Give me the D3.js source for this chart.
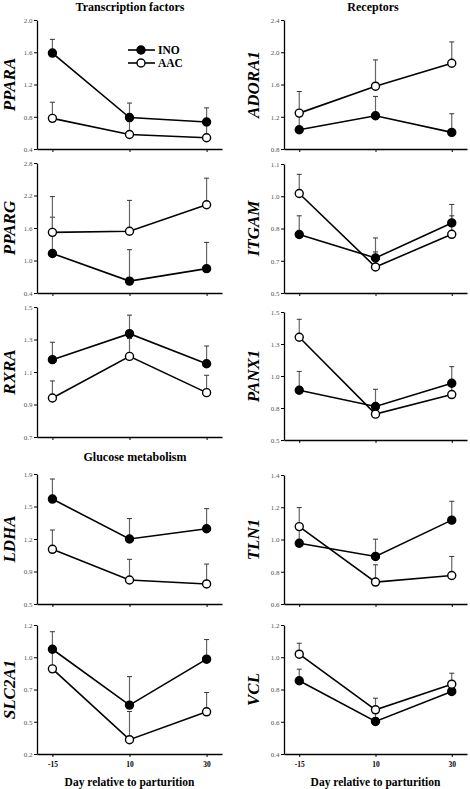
<!DOCTYPE html>
<html><head><meta charset="utf-8">
<script src="https://cdn.jsdelivr.net/npm/d3@7"></script>
<style>
body{margin:0;background:#fff;}
svg{display:block;}
.tick text{font-family:"Liberation Serif","DejaVu Serif",serif;}
</style></head>
<body><svg id="c" width="470" height="789"></svg>
<script>
// ---- data ----
const days = ["-15","10","30"];
const genes = ["PPARA","PPARG","RXRA","LDHA","SLC2A1","ADORA1","ITGAM","PANX1","TLN1","VCL"];
const yDomains = [[0.4,2.0],[0.4,2.8],[0.7,1.5],[0.5,1.9],[0.2,1.2],[0.8,2.4],[0.5,1.1],[0.5,1.5],[0.6,1.4],[0.4,1.2]];
const yTickLabels = [
  ["0.4","0.8","1.2","1.6","2.0"],
  ["0.4","1.0","1.6","2.2","2.8"],
  ["0.7","0.9","1.1","1.3","1.5"],
  ["0.5","0.9","1.2","1.5","1.9"],
  ["0.2","0.5","0.7","1.0","1.2"],
  ["0.8","1.2","1.6","2.0","2.4"],
  ["0.5","0.7","0.8","1.0","1.1"],
  ["0.5","0.8","1.0","1.3","1.5"],
  ["0.6","0.8","1.0","1.2","1.4"],
  ["0.4","0.6","0.8","1.0","1.2"]
];
const inoMean = [
  [1.59,0.79,0.735],[1.13,0.62,0.85],[1.176,1.336,1.151],[1.63,1.20,1.31],[1.012,0.579,0.935],
  [1.039,1.212,1.006],[0.772,0.663,0.826],[0.889,0.762,0.943],[0.977,0.895,1.12],[0.854,0.602,0.788]
];
const inoSE = [
  [0.17,0.18,0.175],[0.67,0.58,0.485],[0.107,0.114,0.109],[0.216,0.22,0.217],[0.136,0.221,0.152],
  [0.2,0.24,0.231],[0.087,0.093,0.086],[0.147,0.134,0.13],[0.09,0.107,0.117],[0.072,0.05,0.06]
];
const aacMean = [
  [0.78,0.58,0.54],[1.52,1.54,2.03],[0.94,1.196,0.973],[1.089,0.759,0.716],[0.86,0.311,0.527],
  [1.245,1.579,1.864],[0.963,0.621,0.773],[1.303,0.702,0.855],[1.08,0.736,0.777],[1.019,0.674,0.833]
];
const aacSE = [
  [0.20,0.17,0.15],[0.66,0.57,0.49],[0.105,0.11,0.107],[0.208,0.222,0.214],[0.14,0.219,0.15],
  [0.268,0.326,0.264],[0.089,0.07,0.086],[0.14,0.06,0.08],[0.118,0.107,0.118],[0.068,0.072,0.068]
];
const groupTitles = ["Transcription factors","Receptors","Glucose metabolism"];
const seriesNames = ["INO","AAC"];
const xAxisTitle = "Day relative to parturition";

// ---- layout ----
const svg = d3.select("#c");
const serif = "'Liberation Serif','DejaVu Serif',serif";
const cols = [{x0:37,x1:222,labelX:9},{x0:284,x1:467,labelX:253}];
const rows = [
  [[20,149],[163,293],[307,437],[474,604],[625,754]],
  [[20,149],[164,293],[312,440],[475,604],[625,754]]
];

genes.forEach((g,i)=>{
  const c = Math.floor(i/5), r = i%5;
  const col = cols[c];
  const [top,bot] = rows[c][r];
  const x = d3.scalePoint().domain(days).range([col.x0,col.x1]).padding(0.2);
  const y = d3.scaleLinear().domain(yDomains[i]).range([bot,top]);
  const gp = svg.append("g");
  const [d0,d1] = yDomains[i];
  const tv = d3.range(5).map(k=>d0+(d1-d0)*k/4);
  const ya = gp.append("g").attr("transform",`translate(${col.x0},0)`)
    .call(d3.axisLeft(y).tickValues(tv).tickSize(3).tickSizeOuter(0).tickFormat((d,k)=>yTickLabels[i][k]));
  ya.selectAll("text").attr("font-size",7).attr("fill","#555").attr("font-family",serif).attr("x",-4.5);
  ya.select(".domain").attr("stroke","#000").attr("stroke-width",1.3);
  ya.selectAll(".tick line").attr("stroke","#000");
  const xa = gp.append("g").attr("transform",`translate(0,${bot})`)
    .call(d3.axisBottom(x).tickSize(3).tickSizeOuter(0).tickFormat(r===4?(d=>d):()=>""));
  xa.select(".domain").attr("stroke","#000").attr("stroke-width",1.3);
  xa.selectAll(".tick line").attr("stroke","#000");
  xa.selectAll("text").attr("font-size",7.5).attr("font-weight","bold").attr("font-family",serif).attr("fill","#000").attr("dy","0.9em");

  // y label
  svg.append("text").attr("transform",`translate(${col.labelX+6},${(top+bot)/2}) rotate(-90)`)
    .attr("text-anchor","middle").attr("font-family",serif).attr("font-style","italic").attr("font-weight","bold")
    .attr("font-size",17).text(g);

  const series = [{m:inoMean[i],se:inoSE[i],fill:"#000"},{m:aacMean[i],se:aacSE[i],fill:"#fff"}];
  // error bars
  series.forEach(s=>{
    days.forEach((d,k)=>{
      const xx = x(d), y0 = y(s.m[k]), y1 = y(s.m[k]+s.se[k]);
      gp.append("line").attr("x1",xx).attr("x2",xx).attr("y1",y0).attr("y2",y1).attr("stroke","#666").attr("stroke-width",1.2);
      gp.append("line").attr("x1",xx-2.5).attr("x2",xx+2.5).attr("y1",y1).attr("y2",y1).attr("stroke","#333").attr("stroke-width",1);
    });
  });
  // lines
  series.forEach(s=>{
    gp.append("path").datum(s.m).attr("fill","none").attr("stroke","#000").attr("stroke-width",1.6)
      .attr("d",d3.line().x((v,k)=>x(days[k])).y(v=>y(v)));
  });
  // markers
  series.forEach(s=>{
    gp.selectAll(null).data(s.m).enter().append("circle")
      .attr("cx",(v,k)=>x(days[k])).attr("cy",v=>y(v)).attr("r",4)
      .attr("fill",s.fill).attr("stroke","#000").attr("stroke-width",1.4);
  });

  if(r===4){
    svg.append("text").attr("x",(col.x0+col.x1)/2).attr("y",786).attr("text-anchor","middle")
      .attr("font-family",serif).attr("font-weight","bold").attr("font-size",11.5).text(xAxisTitle);
  }
});

// group titles
[[130,11,0],[373,11,1],[135,461,2]].forEach(([xx,yy,k])=>{
  svg.append("text").attr("x",xx).attr("y",yy).attr("text-anchor","middle").attr("font-family",serif)
    .attr("font-weight","bold").attr("font-size",12).text(groupTitles[k]);
});

// legend
const lg = svg.append("g");
seriesNames.forEach((n,k)=>{
  const yy = 50 + k*13;
  lg.append("line").attr("x1",128).attr("x2",155).attr("y1",yy).attr("y2",yy).attr("stroke","#000").attr("stroke-width",1.6);
  lg.append("circle").attr("cx",141).attr("cy",yy).attr("r",4).attr("fill",k===0?"#000":"#fff").attr("stroke","#000").attr("stroke-width",1.4);
  lg.append("text").attr("x",158).attr("y",yy+4).attr("font-family",serif).attr("font-weight","bold").attr("font-size",11.5).text(n);
});
</script></body></html>
